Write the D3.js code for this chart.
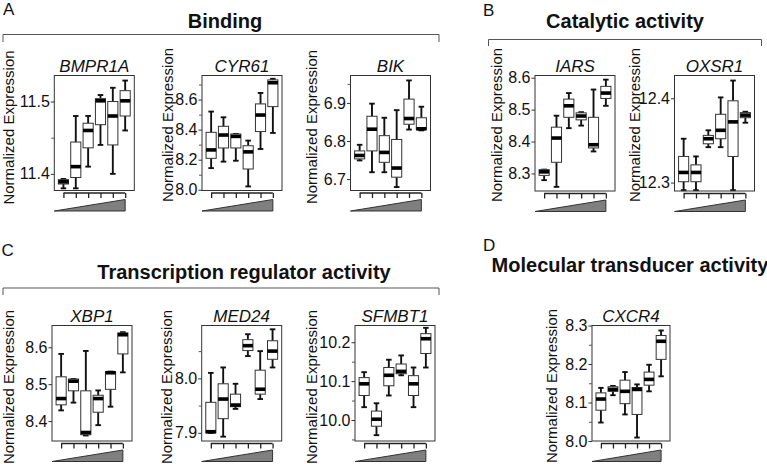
<!DOCTYPE html>
<html><head><meta charset="utf-8">
<script src="https://cdn.jsdelivr.net/npm/d3@7/dist/d3.min.js"></script>
<style>
body{margin:0;background:#fff}
svg{display:block}
text{font-family:"Liberation Sans",Arial,Helvetica,sans-serif;fill:#111}
</style>
</head><body>
<svg id="chart" width="767" height="464"></svg>
<script>
// ---------- DATA ----------
// dose groups (x categories, increasing dose shown by the wedge)
const doses = [1, 2, 3, 4, 5, 6];
// five-number summaries per group: [min, q1, median, q3, max]
const BMPR1A = [
  [11.380, 11.386, 11.389, 11.392, 11.393],
  [11.380, 11.395, 11.410, 11.444, 11.480],
  [11.410, 11.436, 11.460, 11.470, 11.480],
  [11.440, 11.468, 11.501, 11.504, 11.509],
  [11.400, 11.440, 11.480, 11.500, 11.519],
  [11.460, 11.480, 11.501, 11.515, 11.529]
];
const CYR61 = [
  [8.144, 8.209, 8.265, 8.382, 8.520],
  [8.187, 8.278, 8.364, 8.422, 8.482],
  [8.193, 8.278, 8.355, 8.371, 8.371],
  [8.022, 8.138, 8.252, 8.293, 8.327],
  [8.271, 8.387, 8.497, 8.571, 8.644],
  [8.378, 8.553, 8.712, 8.731, 8.738]
];
const BIK = [
  [6.749, 6.753, 6.762, 6.774, 6.790],
  [6.718, 6.774, 6.831, 6.865, 6.898],
  [6.718, 6.744, 6.770, 6.814, 6.861],
  [6.679, 6.705, 6.729, 6.804, 6.881],
  [6.830, 6.844, 6.859, 6.910, 6.959],
  [6.828, 6.830, 6.832, 6.861, 6.890]
];
const IARS = [
  [8.279, 8.294, 8.305, 8.312, 8.312],
  [8.258, 8.335, 8.411, 8.445, 8.481],
  [8.442, 8.476, 8.512, 8.533, 8.552],
  [8.450, 8.468, 8.480, 8.490, 8.492],
  [8.369, 8.380, 8.390, 8.476, 8.563],
  [8.512, 8.535, 8.552, 8.573, 8.594]
];
const OXSR1 = [
  [12.291, 12.301, 12.312, 12.331, 12.352],
  [12.291, 12.301, 12.312, 12.321, 12.331],
  [12.342, 12.346, 12.352, 12.356, 12.362],
  [12.342, 12.352, 12.362, 12.381, 12.401],
  [12.291, 12.331, 12.372, 12.397, 12.421],
  [12.371, 12.377, 12.380, 12.383, 12.384]
];
const XBP1 = [
  [8.429, 8.444, 8.461, 8.520, 8.582],
  [8.450, 8.482, 8.508, 8.514, 8.514],
  [8.361, 8.363, 8.369, 8.482, 8.590],
  [8.389, 8.424, 8.461, 8.470, 8.483],
  [8.439, 8.486, 8.531, 8.534, 8.534],
  [8.532, 8.582, 8.634, 8.639, 8.641]
];
const MED24 = [
  [7.900, 7.900, 7.902, 7.956, 8.010],
  [7.893, 7.926, 7.962, 7.990, 8.020],
  [7.944, 7.948, 7.951, 7.971, 7.990],
  [8.041, 8.051, 8.060, 8.071, 8.081],
  [7.962, 7.971, 7.980, 8.015, 8.050],
  [8.020, 8.035, 8.050, 8.069, 8.090]
];
const SFMBT1 = [
  [10.033, 10.063, 10.093, 10.109, 10.123],
  [9.961, 9.984, 10.002, 10.023, 10.043],
  [10.063, 10.088, 10.115, 10.135, 10.155],
  [10.115, 10.119, 10.125, 10.144, 10.166],
  [10.033, 10.063, 10.093, 10.114, 10.135],
  [10.135, 10.171, 10.209, 10.222, 10.237]
];
const CXCR4 = [
  [8.048, 8.080, 8.109, 8.125, 8.138],
  [8.119, 8.129, 8.134, 8.141, 8.143],
  [8.069, 8.097, 8.129, 8.158, 8.179],
  [8.009, 8.069, 8.134, 8.139, 8.147],
  [8.129, 8.145, 8.160, 8.179, 8.198],
  [8.168, 8.212, 8.259, 8.274, 8.287]
];
// y-axis tick labels (labelled) and unlabelled minor ticks
const ticksBMPR1A = [11.4, 11.5],            minorBMPR1A = [11.45];
const ticksCYR61  = [8.0, 8.2, 8.4, 8.6],    minorCYR61  = [8.1, 8.3, 8.5, 8.7];
const ticksBIK    = [6.7, 6.8, 6.9],         minorBIK    = [6.95];
const ticksIARS   = [8.3, 8.4, 8.5, 8.6],    minorIARS   = [];
const ticksOXSR1  = [12.3, 12.4],            minorOXSR1  = [];
const ticksXBP1   = [8.4, 8.5, 8.6],         minorXBP1   = [];
const ticksMED24  = [7.9, 8.0],              minorMED24  = [7.95, 8.05];
const ticksSFMBT1 = [10.0, 10.1, 10.2],      minorSFMBT1 = [9.95, 10.05, 10.15];
const ticksCXCR4  = [8.0, 8.1, 8.2, 8.3],    minorCXCR4  = [8.05, 8.15, 8.25];
const yTitle = "Normalized Expression";
const groupTitles = ["Binding", "Catalytic activity", "Transcription regulator activity", "Molecular transducer activity"];
const panelLetters = ["A", "B", "C", "D"];

// ---------- LAYOUT ----------
const plots = [
  {gene:"BMPR1A", data:BMPR1A, ticks:ticksBMPR1A, minor:minorBMPR1A, dom:[11.377, 11.536], x:54.3, y:75.5, w:80, h:115, lx:9.8,  ly:127.5},
  {gene:"CYR61",  data:CYR61,  ticks:ticksCYR61,  minor:minorCYR61,  dom:[7.995, 8.760],  x:202,  y:75.5, w:80, h:115, lx:169,  ly:125},
  {gene:"BIK",    data:BIK,    ticks:ticksBIK,    minor:minorBIK,    dom:[6.670, 6.972],  x:350.5,y:75.5, w:80, h:115, lx:313,  ly:127},
  {gene:"IARS",   data:IARS,   ticks:ticksIARS,   minor:minorIARS,   dom:[8.245, 8.607],  x:535,  y:75.5, w:80, h:115.5, lx:498.5, ly:125},
  {gene:"OXSR1",  data:OXSR1,  ticks:ticksOXSR1,  minor:minorOXSR1,  dom:[12.290, 12.427],x:674.5,y:75.5, w:80, h:115.5, lx:636.5, ly:125},
  {gene:"XBP1",   data:XBP1,   ticks:ticksXBP1,   minor:minorXBP1,   dom:[8.346, 8.659],  x:52,   y:325.5,w:80, h:115.5, lx:10.5, ly:387},
  {gene:"MED24",  data:MED24,  ticks:ticksMED24,  minor:minorMED24,  dom:[7.885, 8.097],  x:201.7,y:325.5,w:80, h:115.5, lx:168.3,ly:387},
  {gene:"SFMBT1", data:SFMBT1, ticks:ticksSFMBT1, minor:minorSFMBT1, dom:[9.946, 10.243], x:355,  y:325.5,w:80, h:115.5, lx:313.3,ly:387},
  {gene:"CXCR4",  data:CXCR4,  ticks:ticksCXCR4,  minor:minorCXCR4,  dom:[8.0, 8.3],      x:592,  y:325.5,w:78, h:115.5, lx:553,  ly:386}
];

const svg = d3.select("#chart");
const FS = 15;     // y-title size
const TFS = 16;    // tick label size

function drawPlot(p){
  const g = svg.append("g");
  const x = d3.scaleLinear().domain([0.26, 6.74]).range([p.x, p.x + p.w]);
  const y = d3.scaleLinear().domain(p.dom).range([p.y + p.h, p.y]);
  const bottom = p.y + p.h;
  const bw = x(1.82) - x(1);
  const cw = bw * 0.55;

  p.data.forEach((d, i) => {
    const cx = x(doses[i]);
    const bg = g.append("g");
    bg.append("line").attr("x1", cx).attr("x2", cx).attr("y1", y(d[4])).attr("y2", y(d[3]))
      .attr("stroke", "#111").attr("stroke-width", 1.9);
    bg.append("line").attr("x1", cx).attr("x2", cx).attr("y1", y(d[1])).attr("y2", y(d[0]))
      .attr("stroke", "#111").attr("stroke-width", 1.9);
    [d[0], d[4]].forEach(v => {
      bg.append("line").attr("x1", cx - cw/2).attr("x2", cx + cw/2).attr("y1", y(v)).attr("y2", y(v))
        .attr("stroke", "#111").attr("stroke-width", 1.9);
    });
    bg.append("rect").attr("x", cx - bw/2).attr("y", y(d[3])).attr("width", bw)
      .attr("height", Math.max(0.5, y(d[1]) - y(d[3])))
      .attr("fill", "#fff").attr("stroke", "#333").attr("stroke-width", 1);
    bg.append("line").attr("x1", cx - bw/2).attr("x2", cx + bw/2).attr("y1", y(d[2])).attr("y2", y(d[2]))
      .attr("stroke", "#000").attr("stroke-width", 3.6);
  });

  g.append("rect").attr("x", p.x).attr("y", p.y).attr("width", p.w).attr("height", p.h)
    .attr("fill", "none").attr("stroke", "#333").attr("stroke-width", 1);

  const ya = g.append("g").attr("transform", `translate(${p.x},0)`)
    .call(d3.axisLeft(y).tickValues(p.ticks).tickSize(3.5).tickPadding(1).tickFormat(d3.format(".1f")));
  ya.select(".domain").remove();
  ya.selectAll("line").attr("stroke", "#333");
  ya.selectAll("text").attr("font-size", TFS).attr("fill", "#111")
    .style("font-family", '"Liberation Sans",Arial,sans-serif');
  const ym = g.append("g").attr("transform", `translate(${p.x},0)`)
    .call(d3.axisLeft(y).tickValues(p.minor).tickSize(3).tickFormat(""));
  ym.select(".domain").remove();
  ym.selectAll("line").attr("stroke", "#555");

  const xa = g.append("g").attr("transform", `translate(0,${bottom + 2.5})`)
    .call(d3.axisBottom(x).tickValues(doses).tickSize(5).tickFormat(""));
  xa.select(".domain").remove();
  xa.selectAll("line").attr("stroke", "#222").attr("stroke-width", 1.3);
  xa.append("line").attr("x1", x(doses[0])).attr("x2", x(doses[doses.length-1]))
    .attr("stroke", "#222").attr("stroke-width", 1.3);

  const last = x(doses[doses.length-1]);
  const wedge = d3.line()([[p.x, bottom + 20.5], [last, bottom + 9], [last, bottom + 20.5]]) + "Z";
  g.append("path").attr("d", wedge).attr("fill", "#7f7f7f").attr("stroke", "#333").attr("stroke-width", 1);

  g.append("text").attr("x", p.x + p.w/2).attr("y", p.y - 3.5).attr("text-anchor", "middle")
    .attr("font-size", 17).attr("font-style", "italic").text(p.gene);

  g.append("text").attr("transform", `translate(${p.lx + 0.253*FS},${p.ly}) rotate(-90)`)
    .attr("text-anchor", "middle").attr("font-size", FS).text(yTitle);
}
plots.forEach(drawPlot);

const titles = [
  {t:groupTitles[0], x:225, y:27.5},
  {t:groupTitles[1], x:625, y:27.5},
  {t:groupTitles[2], x:244, y:279},
  {t:groupTitles[3], x:630, y:272}
];
titles.forEach(d => svg.append("text").attr("x", d.x).attr("y", d.y).attr("text-anchor", "middle")
  .attr("font-size", 20).attr("font-weight", "bold").text(d.t));

const brackets = [
  {x1:3, x2:439, y:34.5, y2:42},
  {x1:488.5, x2:761.5, y:39.5, y2:46},
  {x1:3, x2:439, y:288, y2:295}
];
brackets.forEach(b => {
  svg.append("path").attr("d", d3.line()([[b.x1, b.y2], [b.x1, b.y], [b.x2, b.y], [b.x2, b.y2]]))
    .attr("fill", "none").attr("stroke", "#555").attr("stroke-width", 1);
});

const letters = [
  {t:panelLetters[0], x:3, y:15},
  {t:panelLetters[1], x:483, y:16},
  {t:panelLetters[2], x:1.5, y:256},
  {t:panelLetters[3], x:483, y:250.5}
];
letters.forEach(d => svg.append("text").attr("x", d.x).attr("y", d.y).attr("font-size", 17).text(d.t));
</script>
</body></html>
